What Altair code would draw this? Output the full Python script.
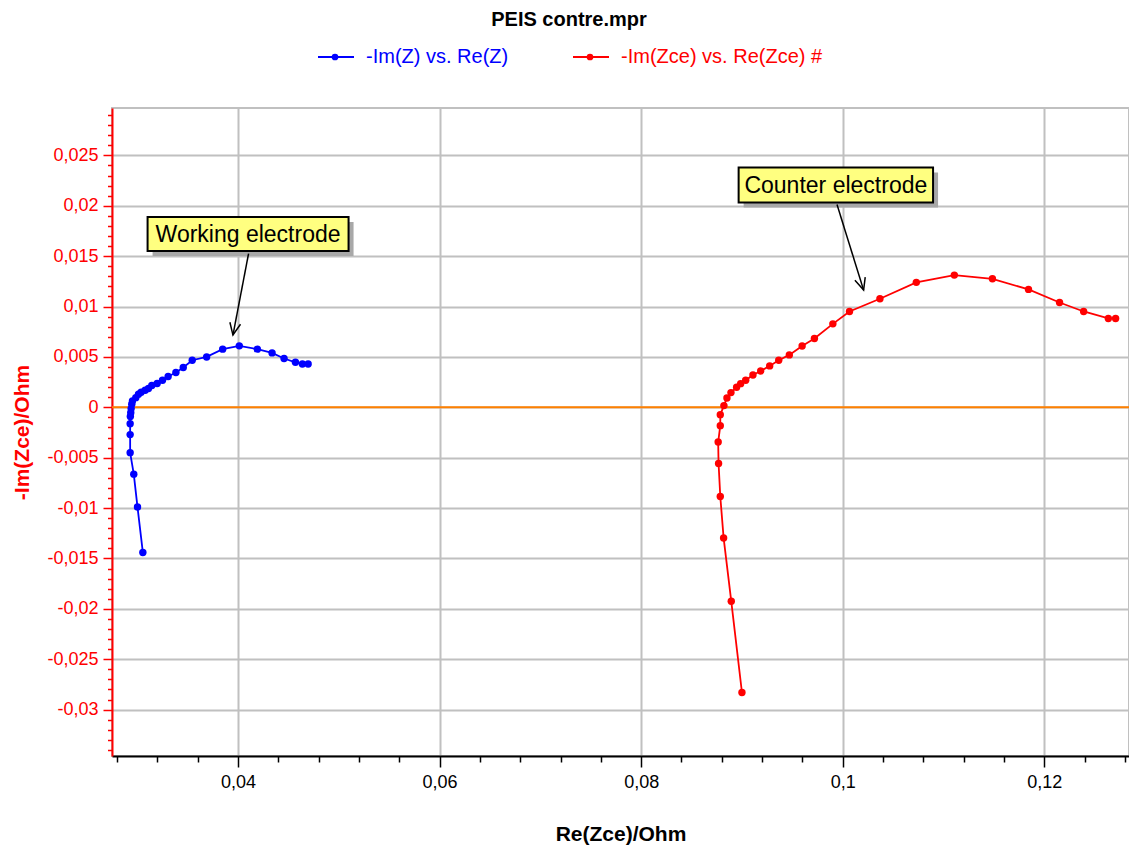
import altair as alt
import pandas as pd

CHART_TITLE = "PEIS contre.mpr"
SERIES_NAMES = ["-Im(Z) vs. Re(Z)", "-Im(Zce) vs. Re(Zce) #"]
X_TITLE = "Re(Zce)/Ohm"
Y_TITLE = "-Im(Zce)/Ohm"

# Working electrode (blue)
blue_re = [0.03056, 0.03003, 0.02966, 0.02930, 0.02930, 0.02930, 0.02932, 0.02936,
           0.02940, 0.02946, 0.02953, 0.02986, 0.03013, 0.03039, 0.03079, 0.03112,
           0.03145, 0.03198, 0.03251, 0.03307, 0.03384, 0.03457, 0.03546, 0.03689,
           0.03848, 0.04013, 0.04192, 0.04338, 0.04457, 0.04570, 0.04639, 0.04696]
blue_im = [-0.0144, -0.0099, -0.00663, -0.0045, -0.00271, -0.00162, -0.0009, -0.00053,
           -0.00013, 0.0003, 0.00063, 0.00096, 0.00129, 0.00149, 0.00169, 0.00186,
           0.00216, 0.00236, 0.00268, 0.00305, 0.00345, 0.00395, 0.00467, 0.0050,
           0.00577, 0.0061, 0.00577, 0.0054, 0.00484, 0.00447, 0.0043, 0.0043]

# Counter electrode (red)
red_re = [0.0900, 0.08894, 0.08818, 0.08785, 0.08768, 0.08764, 0.08785, 0.08785,
          0.08821, 0.08851, 0.08891, 0.08947, 0.08987, 0.09037, 0.09109, 0.09186,
          0.09275, 0.09365, 0.09470, 0.09597, 0.09719, 0.09902, 0.10067, 0.10369,
          0.10730, 0.11107, 0.11485, 0.11843, 0.12151, 0.12390, 0.12635, 0.12707]
red_im = [-0.0283, -0.01925, -0.01296, -0.00885, -0.00557, -0.00345, -0.00182, -0.00073,
          0.00017, 0.00093, 0.00146, 0.00199, 0.00235, 0.00268, 0.00321, 0.00361,
          0.00411, 0.00467, 0.0052, 0.00609, 0.00683, 0.00828, 0.00951, 0.01077,
          0.0124, 0.01312, 0.01275, 0.0117, 0.0104, 0.00951, 0.00882, 0.00882]

# Annotations (data coordinates)
ann_text = ["Working electrode", "Counter electrode"]
ann_box_x1 = [0.03103, 0.08967]
ann_box_x2 = [0.05097, 0.10896]
ann_box_y1 = [0.01889, 0.02379]
ann_box_y2 = [0.01552, 0.02032]
arrow_x1 = [0.04105, 0.09943]
arrow_y1 = [0.01526, 0.02012]
arrow_x2 = [0.0395, 0.10207]
arrow_y2 = [0.00717, 0.01163]
arrow_angle = [10.8, 342.8]

x_ticks = [round(0.028 + 0.004 * i, 3) for i in range(26)]
y_ticks = [round(-0.034 + 0.001 * i, 3) for i in range(64)]

X_DOMAIN = [0.0275, 0.1284]
Y_DOMAIN = [-0.0346, 0.0297]

FONT = "Liberation Sans"
BLUE = "#0000FF"
RED = "#FF0000"

xs = alt.Scale(domain=X_DOMAIN, nice=False, zero=False)
ys = alt.Scale(domain=Y_DOMAIN, nice=False, zero=False)

x_major = "abs(datum.value*50 - round(datum.value*50)) < 1e-6"
y_major = "abs(datum.value*200 - round(datum.value*200)) < 1e-6"
fmt = "replace(toString(round(datum.value*1000)/1000), '.', ',')"

xaxis = alt.Axis(
    values=x_ticks, title=X_TITLE,
    labelExpr=f"({x_major}) ? {fmt} : ''",
    tickSize={"condition": {"test": x_major, "value": 11}, "value": 6},
    gridOpacity={"condition": {"test": x_major, "value": 1}, "value": 0},
    gridColor="#C0C0C0", gridWidth=2,
    domainColor="#000000", domainWidth=2, tickColor="#000000", tickWidth=1.5,
    labelColor="#000000", labelFont=FONT, labelFontSize=18, labelPadding=6,
    labelFlush=False, labelOverlap=False, labelBound=False,
    titleFont=FONT, titleFontSize=21, titleFontWeight="bold", titleColor="#000000",
    titlePadding=32,
)
yaxis = alt.Axis(
    values=y_ticks, title=Y_TITLE,
    labelExpr=f"({y_major}) ? {fmt} : ''",
    tickSize={"condition": {"test": y_major, "value": 9}, "value": 4.5},
    gridOpacity={"condition": {"test": y_major, "value": 1}, "value": 0},
    gridColor="#C0C0C0", gridWidth=2,
    domainColor=RED, domainWidth=2, tickColor=RED, tickWidth=1.5,
    labelColor=RED, labelFont=FONT, labelFontSize=18, labelPadding=5,
    labelFlush=False, labelOverlap=False, labelBound=False,
    titleFont=FONT, titleFontSize=21, titleFontWeight="bold", titleColor=RED,
    titlePadding=14,
)


def X(field):
    return alt.X(field, type="quantitative", scale=xs, axis=xaxis)


def Y(field):
    return alt.Y(field, type="quantitative", scale=ys, axis=yaxis)


blue_df = pd.DataFrame({"re": blue_re, "im": blue_im, "i": range(len(blue_re))})
red_df = pd.DataFrame({"re": red_re, "im": red_im, "i": range(len(red_re))})
ann_df = pd.DataFrame({
    "text": ann_text,
    "bx1": ann_box_x1, "bx2": ann_box_x2, "by1": ann_box_y1, "by2": ann_box_y2,
    "cx": [(a + b) / 2 for a, b in zip(ann_box_x1, ann_box_x2)],
    "cy": [(a + b) / 2 for a, b in zip(ann_box_y1, ann_box_y2)],
    "ax1": arrow_x1, "ay1": arrow_y1, "ax2": arrow_x2, "ay2": arrow_y2,
    "ang": arrow_angle,
})

zero_line = alt.Chart(pd.DataFrame({"z": [0.0]})).mark_rule(
    color="#FF8000", strokeWidth=2).encode(y=Y("z"))

blue_line = alt.Chart(blue_df).mark_line(color=BLUE, strokeWidth=1.8).encode(
    x=X("re"), y=Y("im"), order="i:Q")
blue_pts = alt.Chart(blue_df).mark_circle(color=BLUE, size=55, opacity=1).encode(
    x=X("re"), y=Y("im"))
red_line = alt.Chart(red_df).mark_line(color=RED, strokeWidth=1.8).encode(
    x=X("re"), y=Y("im"), order="i:Q")
red_pts = alt.Chart(red_df).mark_circle(color=RED, size=55, opacity=1).encode(
    x=X("re"), y=Y("im"))

ann_base = alt.Chart(ann_df)
shadow = ann_base.mark_rect(color="#A8A8A8", xOffset=5, x2Offset=5, yOffset=5, y2Offset=5).encode(
    x=X("bx1"), x2="bx2", y=Y("by1"), y2="by2")
box = ann_base.mark_rect(fill="#FFFF80", stroke="#000000", strokeWidth=2).encode(
    x=X("bx1"), x2="bx2", y=Y("by1"), y2="by2")
box_text = ann_base.mark_text(font=FONT, fontSize=23, color="#000000", align="center",
                              baseline="middle", dy=1).encode(
    x=X("cx"), y=Y("cy"), text="text:N")
arrow = ann_base.mark_rule(color="#000000", strokeWidth=1.5).encode(
    x=X("ax1"), x2="ax2", y=Y("ay1"), y2="ay2")
arrow_head = ann_base.mark_point(shape="M -0.45 -1 L 0 0 L 0.45 -1", filled=False,
                                 stroke="#000000", strokeWidth=1.5, size=576, opacity=1).encode(
    x=X("ax2"), y=Y("ay2"), angle=alt.Angle("ang:Q", scale=None))

# Title and legend (drawn above the plot area)
title_mark = alt.Chart(pd.DataFrame({"t": [CHART_TITLE]})).mark_text(
    font=FONT, fontSize=20, fontWeight="bold", color="#000000", align="center",
    baseline="middle").encode(x=alt.value(457), y=alt.value(-88), text="t:N")

legend_layers = []
for name, color, x0 in [(SERIES_NAMES[0], BLUE, 206), (SERIES_NAMES[1], RED, 461)]:
    d = pd.DataFrame({"t": [name]})
    legend_layers.append(alt.Chart(d).mark_rule(color=color, strokeWidth=1.8).encode(
        x=alt.value(x0), x2=alt.value(x0 + 36), y=alt.value(-51)))
    legend_layers.append(alt.Chart(d).mark_circle(color=color, size=45, opacity=1).encode(
        x=alt.value(x0 + 17), y=alt.value(-51)))
    legend_layers.append(alt.Chart(d).mark_text(
        font=FONT, fontSize=20, color=color, align="left", baseline="middle").encode(
        x=alt.value(x0 + 48), y=alt.value(-51), text="t:N"))

chart = alt.layer(
    zero_line, blue_line, blue_pts, red_line, red_pts,
    shadow, box, box_text, arrow, arrow_head, title_mark, *legend_layers
).properties(
    width=1017, height=648,
    autosize=alt.AutoSizeParams(type="none"),
    padding={"left": 112, "top": 108, "right": 0, "bottom": 91},
).configure_view(stroke="#C0C0C0", strokeWidth=2)

chart.save("out.html", embed_options={"renderer": "svg", "actions": False})
